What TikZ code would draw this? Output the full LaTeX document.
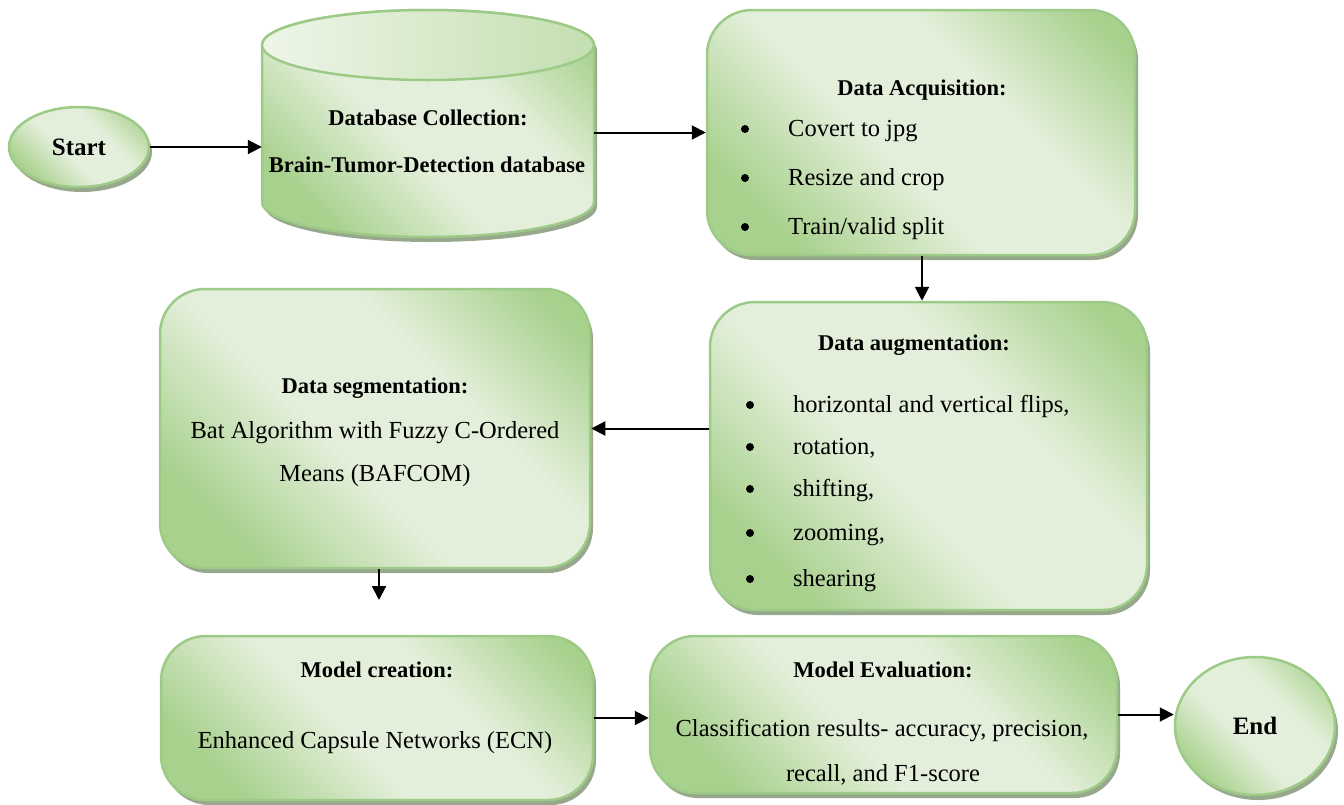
\documentclass[tikz,border=0pt]{standalone}
\usepackage{fontspec}
\setmainfont{Liberation Serif}
\usetikzlibrary{arrows.meta,shadows,shapes.geometric}
\definecolor{gdark}{HTML}{A9D18E}
\definecolor{glight}{HTML}{E3EFDA}
\definecolor{gborder}{HTML}{9DCB87}
\definecolor{gshadow}{HTML}{98A88C}
\pgfdeclarehorizontalshading{greendiag}{100bp}{color(0bp)=(gdark); color(25bp)=(gdark); color(44bp)=(glight); color(62bp)=(glight); color(80bp)=(gdark); color(100bp)=(gdark)}
\tikzset{
  greenfill/.style={draw=gborder, line width=2.5pt, shading=greendiag, shading angle=45,
    drop shadow={shadow xshift=3pt, shadow yshift=-5pt, fill=gshadow, opacity=1}},
  box/.style={greenfill, rectangle, rounded corners=45pt, inner sep=0pt},
  term/.style={greenfill, ellipse, inner sep=0pt, font=\fontsize{25}{30}\selectfont\bfseries},
  conn/.style={line width=2pt, -{Triangle[length=14pt,width=14pt]}},
  ttl/.style={inner sep=0pt, text height=17pt, text depth=2pt, font=\fontsize{22.5}{27}\selectfont\bfseries},
  body/.style={inner sep=0pt, text height=18pt, text depth=2pt, font=\fontsize{24.5}{29}\selectfont},
  bul/.style={circle, fill=black, inner sep=0pt, minimum size=8pt},
}
\begin{document}
\begin{tikzpicture}[x=1pt,y=-1pt]
\useasboundingbox (0,0) rectangle (1344,804);

% Start
\node[term, minimum width=140pt, minimum height=80pt] (start) at (79,147) {Start};

% Database cylinder
\path[greenfill] (262,45) -- (262,202) arc[start angle=180, end angle=0, x radius=166, y radius=35]
  -- (594,45) arc[start angle=0, end angle=-180, x radius=166, y radius=35] -- cycle;
\draw[draw=gborder, line width=2.5pt, left color=glight!60!white, right color=gdark!55!glight]
  (428,45) ellipse[x radius=166, y radius=35];
\node[minimum width=332pt, minimum height=227pt, inner sep=0pt] (db) at (428,123.5) {};
\node[ttl] (dbt1) at (428,118) {Database Collection:};
\node[ttl] (dbt2) at (427,165) {Brain-Tumor-Detection database};

% Data acquisition
\node[box, minimum width=428pt, minimum height=245pt] (da) at (921,132.5) {};
\node[ttl] (dat) at (922,88) {Data Acquisition:};
\node[bul] (dab1) at (745,129) {};
\node[body, anchor=west] (dal1) at (788,128) {Covert to jpg};
\node[bul] (dab2) at (745,178) {};
\node[body, anchor=west] (dal2) at (788,177) {Resize and crop};
\node[bul] (dab3) at (745,227) {};
\node[body, anchor=west] (dal3) at (788,226) {Train/valid split};

% Data augmentation
\node[box, minimum width=437pt, minimum height=308pt] (aug) at (928.5,456) {};
\node[ttl] (augt) at (914,343) {Data augmentation:};
\node[bul] (augb1) at (750,405) {};
\node[body, anchor=west] (augl1) at (793,404) {horizontal and vertical flips,};
\node[bul] (augb2) at (750,447) {};
\node[body, anchor=west] (augl2) at (793,446) {rotation,};
\node[bul] (augb3) at (750,489) {};
\node[body, anchor=west] (augl3) at (793,488) {shifting,};
\node[bul] (augb4) at (750,533) {};
\node[body, anchor=west] (augl4) at (793,532) {zooming,};
\node[bul] (augb5) at (750,579) {};
\node[body, anchor=west] (augl5) at (793,578) {shearing};

% Data segmentation
\node[box, minimum width=430pt, minimum height=279pt] (seg) at (375,428.5) {};
\node[ttl] (segt) at (375,386) {Data segmentation:};
\node[body] (segl1) at (375,430) {Bat Algorithm with Fuzzy C-Ordered};
\node[body] (segl2) at (375,473) {Means (BAFCOM)};
\coordinate (segend) at (379,600);

% Model creation
\node[box, minimum width=432pt, minimum height=164pt] (mc) at (377,718) {};
\node[ttl] (mct) at (377,670) {Model creation:};
\node[body] (mcl) at (375,740) {Enhanced Capsule Networks (ECN)};

% Model evaluation
\node[box, minimum width=467pt, minimum height=157pt] (me) at (883.5,714.5) {};
\node[ttl] (met) at (883,670) {Model Evaluation:};
\node[body] (mel1) at (882,728) {Classification results- accuracy, precision,};
\node[body] (mel2) at (883,773) {recall, and F1-score};

% End
\node[term, minimum width=160pt, minimum height=138pt] (end) at (1255,726) {End};

% Connectors
\draw[conn] (start.east) -- (start.east -| db.west);
\draw[conn] (db.east |- da.west) -- (da.west);
\draw[conn] (da.south -| dat) -- (dat |- aug.north);
\draw[conn] (aug.west |- seg.east) -- (seg.east);
\draw[conn] (seg.south -| segend) -- (segend);
\draw[conn] (mc.east) -- (mc.east -| me.west);
\draw[conn] (me.east) -- (me.east -| end.west);
\end{tikzpicture}
\end{document}
